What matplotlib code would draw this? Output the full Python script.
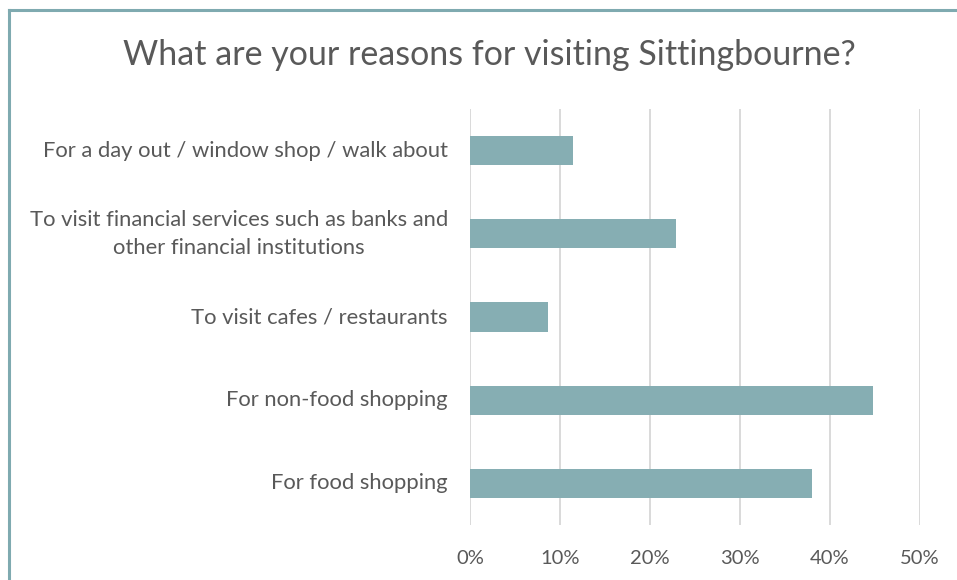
import matplotlib.pyplot as plt
from matplotlib.lines import Line2D
from matplotlib.ticker import PercentFormatter

plt.rcParams['font.family'] = ['Lato', 'DejaVu Sans']

# Причины посещения (снизу вверх, как на оси)
reasons = [
    "For food shopping",
    "For non-food shopping",
    "To visit cafes / restaurants",
    "To visit financial services such as banks and\nother financial institutions",
    "For a day out / window shop / walk about",
]
shares = [0.380, 0.448, 0.087, 0.229, 0.114]
xticks = [0, 0.1, 0.2, 0.3, 0.4, 0.5]

bar_color = "#86aeb3"
text_color = "#595959"
grid_color = "#d9d9d9"

fig = plt.figure(figsize=(9.57, 5.80), dpi=100)
ax = fig.add_axes([0.4911, 0.0948, 0.4702, 0.7172])

ax.barh(range(len(reasons)), shares, height=0.35, color=bar_color, zorder=3)

ax.set_xlim(0, 0.5)
ax.set_ylim(-0.5, len(reasons) - 0.5)
ax.set_xticks(xticks)
ax.xaxis.set_major_formatter(PercentFormatter(1.0, decimals=0))
ax.set_yticks(range(len(reasons)))
ax.set_yticklabels(reasons, multialignment="center", linespacing=1.5, va="center")

ax.tick_params(axis="both", length=0, labelcolor=text_color)
ax.tick_params(axis="x", pad=18, labelsize=14.5)
ax.tick_params(axis="y", pad=16, labelsize=15.8)

for s in ax.spines.values():
    s.set_visible(False)
ax.grid(axis="x", color=grid_color, linewidth=1.4, zorder=0)
ax.grid(axis="y", visible=False)

fig.text(0.511, 0.905, "What are your reasons for visiting Sittingbourne?",
         ha="center", va="center", fontsize=24.5, color=text_color)

# рамка области диаграммы (обрезана справа и снизу)
frame_color = "#7faab0"
fig.add_artist(Line2D([0.0099, 0.0099], [0, 0.982], transform=fig.transFigure,
                      color=frame_color, linewidth=2.2))
fig.add_artist(Line2D([0.0099, 1.0], [0.982, 0.982], transform=fig.transFigure,
                      color=frame_color, linewidth=2.2))

fig.savefig("out.png", dpi=100)
